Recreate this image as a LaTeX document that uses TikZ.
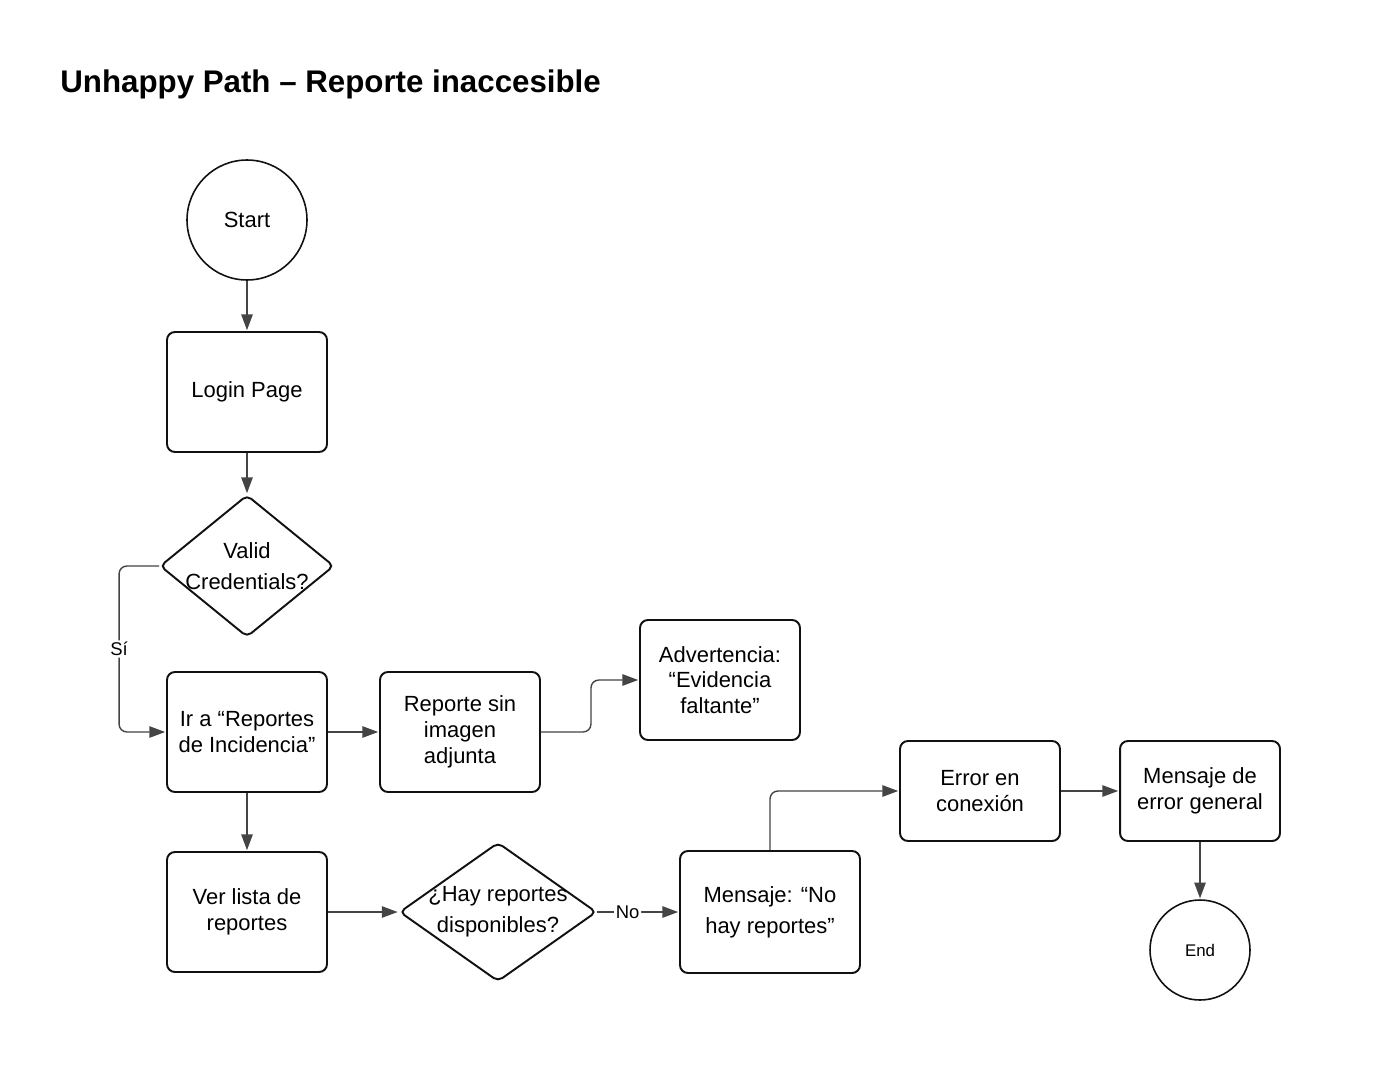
\documentclass[tikz,border=0pt]{standalone}
\usepackage{fontspec}
\setmainfont{Liberation Sans}
\usetikzlibrary{arrows.meta, shapes.geometric}
\definecolor{flowLine}{HTML}{111111}
\definecolor{flowEdge}{HTML}{444444}
\definecolor{flowTip}{HTML}{333333}
\tikzset{
  flowfig/.style={
    every node/.append style={font=\fontsize{12.5}{14.7}\selectfont},
    >={Triangle[length=9pt, width=6.5pt]},
  },
  procbox/.style={
    draw=flowLine, line width=1.1pt, fill=white, rounded corners=4.5pt,
    align=center, inner sep=2pt, minimum width=3.2cm, minimum height=2.4cm,
  },
  tallbox/.style={procbox, font=\fontsize{12.5}{17.6}\selectfont},
  % Diamanten: Text als Label, damit die Form nicht mitwaechst.
  decision/.style={
    draw=flowLine, line width=1.1pt, diamond, rounded corners=3pt,
    inner sep=0pt,
  },
  decitext/.style={align=center, font=\fontsize{12.5}{17.6}\selectfont},
  terminal/.style={draw=flowLine, line width=0.9pt, circle, inner sep=0pt},
  flow/.style={draw=flowEdge, line width=0.8pt, rounded corners=4.5pt,
    ->, shorten >=0.5pt},
  edgelabel/.style={fill=white, inner sep=1pt, font=\fontsize{10.5}{12}\selectfont},
}
\begin{document}
\begin{tikzpicture}[flowfig, x=0.02cm, y=-0.02cm]
  \useasboundingbox (0,0) rectangle (1375,1078);
  \node[anchor=base west, inner sep=0pt, font=\fontsize{17.8}{20}\selectfont\bfseries]
    (Title) at (60,92) {Unhappy Path – Reporte inaccesible};
  \node[terminal, minimum size=2.4cm] (Start) at (247,220) {Start};
  \node[procbox] (LoginPage) at (247,392) {Login Page};
  \node[decision, minimum width=3.48cm, minimum height=2.84cm,
    label={[decitext]center:Valid\\Credentials?}] (ValidCred) at (247,566) {};
  \node[procbox] (IrReportes) at (247,732) {Ir a “Reportes\\de Incidencia”};
  \node[procbox] (SinImagen) at (460,732) {Reporte sin\\imagen\\adjunta};
  \node[procbox] (Advertencia) at (720,680) {Advertencia:\\“Evidencia\\faltante”};
  \node[procbox] (VerLista) at (247,912) {Ver lista de\\reportes};
  \node[decision, minimum width=3.94cm, minimum height=2.78cm,
    label={[decitext]center:¿Hay reportes\\disponibles?}] (HayReportes) at (498,912) {};
  \node[tallbox, minimum width=3.6cm, minimum height=2.44cm] (MsgNoReportes) at (770,912) {Mensaje: “No\\hay reportes”};
  \node[procbox, minimum height=2.0cm] (ErrorConexion) at (980,791) {Error en\\conexión};
  \node[procbox, minimum height=2.0cm] (ErrorGeneral) at (1200,791) {Mensaje de\\error general};
  \node[terminal, minimum size=2.0cm, font=\fontsize{9.6}{11}\selectfont] (End) at (1200,950) {End};
  \draw[flow] (Start) -- (LoginPage);
  \draw[flow] (LoginPage) -- (ValidCred);
  \draw[flow] (ValidCred.west) -- ++(-40,0) |- node[edgelabel, pos=0.25] {Sí} (IrReportes.west);
  \draw[flow] (IrReportes) -- (SinImagen);
  \draw[flow] (SinImagen.east) -- ++(50,0) |- (Advertencia.west);
  \draw[flow] (IrReportes) -- (VerLista);
  \draw[flow] (VerLista.east) -- (HayReportes.west);
  \draw[flow] (HayReportes.east) -- node[edgelabel, pos=0.37] {No} (MsgNoReportes.west);
  \draw[flow] (MsgNoReportes.north) |- (ErrorConexion.west);
  \draw[flow] (ErrorConexion) -- (ErrorGeneral);
  \draw[flow] (ErrorGeneral) -- (End);
\end{tikzpicture}
\end{document}
